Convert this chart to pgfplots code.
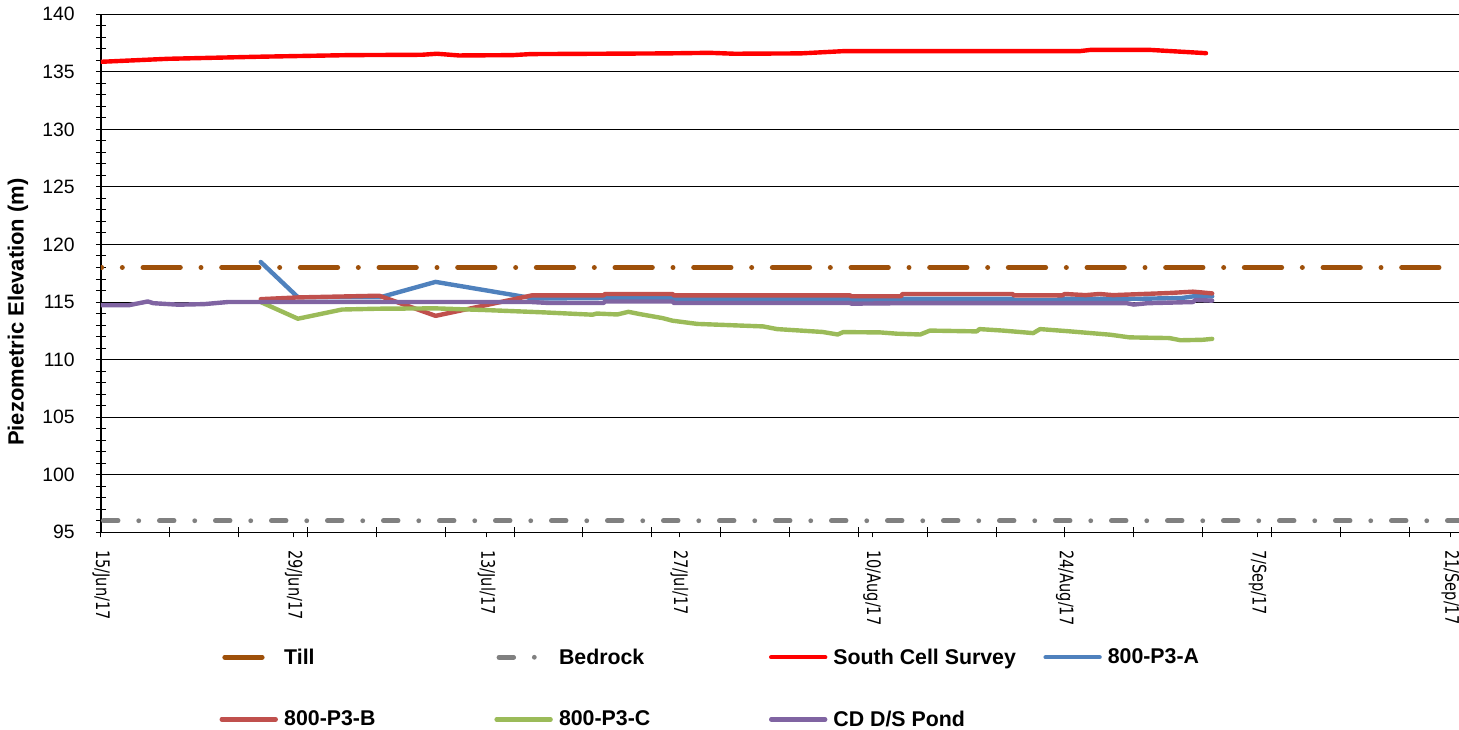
\documentclass[border=0pt]{standalone}
\usepackage{pgfplots}
\pgfplotsset{compat=1.18}
\usepackage{fontspec}
\setmainfont{Liberation Sans}
\newfontfamily\dejavu[FakeStretch=0.78]{DejaVu Sans}
\definecolor{tillc}{RGB}{158,80,10}
\definecolor{bedc}{RGB}{128,128,128}
\definecolor{scs}{RGB}{255,0,0}
\definecolor{pa}{RGB}{79,129,189}
\definecolor{pb}{RGB}{192,80,77}
\definecolor{pc}{RGB}{155,187,89}
\definecolor{pond}{RGB}{128,100,162}
\begin{document}
\begin{tikzpicture}
\begin{axis}[
  at={(0pt,0pt)}, anchor=south west,
  scale only axis, width=1018.5pt, height=388.5pt,
  xmin=0, xmax=98.62, ymin=95, ymax=140,
  axis lines=left, axis line style={-, black, line width=0.8pt},
  xtick={0,5,...,95}, xticklabels={},
  xtick align=center,
  extra x ticks={0,14,28,42,56,70,84,98},
  extra x tick labels={15/Jun/17,29/Jun/17,13/Jul/17,27/Jul/17,10/Aug/17,24/Aug/17,7/Sep/17,21/Sep/17},
  extra x tick style={tick align=outside, major tick length=3.75pt},
  x tick label style={font=\dejavu\fontsize{14}{14}\selectfont, rotate=-90, anchor=west, inner xsep=9.5pt, inner ysep=0pt},
  ytick={95,100,...,140}, minor y tick num=4, ytick align=center,
  major tick length=7.5pt, minor tick length=7.5pt,
  tick style={black, line width=0.75pt},
  ymajorgrids, major grid style={black, line width=0.75pt},
  /pgf/number format/assume math mode=true,
  y tick label style={font=\fontsize{14.5}{14.5}\selectfont, inner sep=0pt, xshift=-15.75pt},
  ylabel={\bfseries Piezometric Elevation (m)},
  every axis y label/.style={at={(axis description cs:-0.0611,0.425)}, rotate=90, anchor=center, font=\fontsize{16.5}{16.5}\selectfont},
  legend columns=4,
  legend cell align=left,
  legend style={at={(axis description cs:0.0869,-0.224)}, anchor=north west, draw=none, fill=none,
    font=\fontsize{16}{16}\selectfont\bfseries, inner sep=0pt, column sep=0pt, row sep=33.5pt,
    nodes={inner sep=0pt}},
  legend image code/.code={\draw[#1] (0pt,0pt) -- (40.5pt,0pt);},
]
\addplot[tillc, line width=3.7pt, line cap=round, dash pattern=on 28pt off 15.5pt on 0pt off 15.5pt, dash phase=27.5pt, legend image post style={dash phase=56.7pt}] coordinates {(0,118) (98.62,118)};
\addlegendentry{\makebox[162pt][l]{\hspace{4.5pt}Till}}
\addplot[bedc, line width=3.6pt, line cap=round, dash pattern=on 11pt off 15.5pt on 0pt off 15.5pt, dash phase=40.2pt] coordinates {(0,96) (98.62,96)};
\addlegendentry{\makebox[162pt][l]{\hspace{4.5pt}Bedrock}}
\addplot[scs, line width=3.3pt, line cap=round, line join=round] coordinates {
(0,135.87) (4.85,136.13) (11.45,136.31) (18.0,136.45) (23.3,136.48) (24.4,136.57) (26.0,136.42) (29.9,136.45) (31.2,136.54) (41,136.6) (44.2,136.65) (46.0,136.57) (50.8,136.6) (54,136.8) (71.1,136.8) (71.9,136.91) (76.1,136.91) (80.25,136.62)};
\addlegendentry{\makebox[162pt][l]{\hspace{4.5pt}South Cell Survey}}
\addplot[pa, line width=3.3pt, line cap=round, line join=round] coordinates {
(11.6,118.48) (14.3,115.42) (20.3,115.42) (24.3,116.75) (31.0,115.4) (31.2,115.3) (36.5,115.35) (41.5,115.35) (41.6,115.29) (54.4,115.29) (54.5,115.17) (58,115.2) (58.2,115.29) (66.2,115.29) (66.3,115.17) (69.5,115.17) (69.6,115.29) (75.7,115.29) (78.5,115.35) (79.3,115.49) (80.7,115.49)};
\addlegendentry{\makebox[162pt][l]{\hspace{4.5pt}800-P3-A}}
\addplot[pb, line width=3.3pt, line cap=round, line join=round] coordinates {
(11.6,115.25) (14.3,115.4) (20.2,115.55) (24.3,113.8) (31.3,115.58) (36.5,115.58) (36.6,115.7) (41.5,115.7) (41.6,115.58) (54.4,115.58) (54.5,115.5) (58.1,115.5) (58.2,115.7) (66.2,115.7) (66.3,115.58) (69.8,115.58) (70.0,115.7) (71.5,115.6) (72.5,115.7) (73.5,115.6) (75.7,115.7) (77.5,115.78) (79.3,115.9) (79.8,115.85) (80.7,115.75)};
\addlegendentry{\makebox[162pt][l]{\hspace{4.5pt}800-P3-B}}
\addplot[pc, line width=3.3pt, line cap=round, line join=round] coordinates {
(11.6,115.0) (14.3,113.55) (17.5,114.35) (20.1,114.42) (24.3,114.45) (28,114.3) (32.2,114.1) (35.7,113.9) (36.0,114.0) (37.5,113.92) (38.3,114.15) (39.1,113.96) (40.8,113.6) (41.5,113.38) (43.3,113.1) (48.1,112.88) (49.1,112.65) (52.4,112.4) (53.5,112.18) (53.9,112.39) (56.6,112.36) (57.8,112.25) (59.5,112.18) (60.2,112.52) (63.6,112.45) (63.8,112.65) (65.5,112.52) (67.7,112.3) (68.2,112.65) (70.4,112.45) (73.3,112.16) (74.7,111.93) (77.6,111.87) (78.4,111.68) (80.0,111.72) (80.7,111.8)};
\addlegendentry{\makebox[162pt][l]{\hspace{4.5pt}800-P3-C}}
\addplot[pond, line width=3.3pt, line cap=round, line join=round] coordinates {
(0,114.72) (2,114.72) (3.4,115.05) (3.8,114.9) (5.6,114.77) (7.5,114.82) (9.2,115.0) (31.3,115.0) (32.5,114.92) (36.5,114.92) (36.6,115.05) (41.5,115.05) (41.6,114.92) (54.4,114.92) (54.5,114.86) (58.2,114.9) (74.5,114.9) (75,114.78) (76,114.9) (79.3,115.0) (79.5,115.18) (80.7,115.12)};
\addlegendentry{\makebox[162pt][l]{\hspace{4.5pt}CD D/S Pond}}
\end{axis}
\pgfresetboundingbox
\path[use as bounding box] (-75.75pt,-148.3pt) rectangle (1018.5pt,399.2pt);
\end{tikzpicture}
\end{document}
